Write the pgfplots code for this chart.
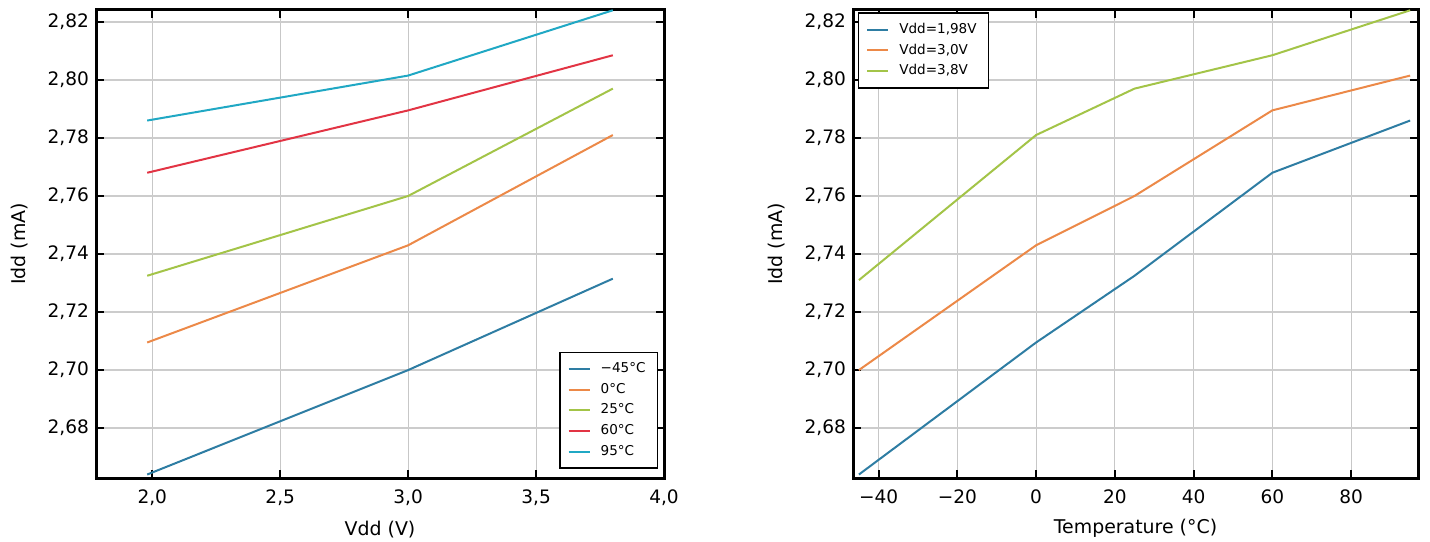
\documentclass[border=0pt]{standalone}
\usepackage{fontspec}
\setmainfont{DejaVu Sans}
\usepackage{pgfplots}
\pgfplotsset{compat=1.18}

\definecolor{cBlue}{RGB}{46,125,163}
\definecolor{cOrange}{RGB}{236,137,72}
\definecolor{cGreen}{RGB}{163,196,72}
\definecolor{cRed}{RGB}{226,52,68}
\definecolor{cCyan}{RGB}{32,168,196}

\pgfplotsset{
  idd/.style={
    scale only axis,
    height=234bp,
    axis line style={line width=1.5bp},
    tick style={black, line width=1bp},
    major tick length=4bp,
    tick align=inside,
    xtick pos=both, ytick pos=both,
    xmajorgrids, ymajorgrids,
    x grid style={line width=0.5bp, black!22},
    y grid style={line width=1.3bp, black!20},
    ymin=2.6628, ymax=2.8241,
    ytick={2.68,2.70,2.72,2.74,2.76,2.78,2.80,2.82},
    ticklabel style={font=\fontsize{9.3}{10}\selectfont},
    xticklabel style={yshift=-2.5bp},
    /pgf/number format/assume math mode=true,
    /pgf/number format/use comma,
    /pgf/number format/fixed,
    /pgf/number format/fixed zerofill,
    yticklabel style={/pgf/number format/precision=2},
    ylabel={Idd (mA)},
    label style={font=\fontsize{9.5}{11}\selectfont},
    xlabel style={yshift=-0.8bp},
    ylabel style={yshift=3bp},
    legend cell align=left,
    legend image code/.code={\draw[#1] (0bp,0bp) -- (10.5bp,0bp);},
    every axis plot/.append style={line width=1bp},
  },
  iddlegend/.style={
    font=\fontsize{6.8}{8}\selectfont, draw=black, line width=0.8bp,
    column sep=3bp, inner xsep=4bp, inner ysep=3bp,
    nodes={inner ysep=1.9bp},
  }
}

\begin{document}
\begin{tikzpicture}
  % Idd versus supply voltage, one line per temperature
  \begin{axis}[
    idd,
    width=284bp,
    xmin=1.78, xmax=4.0,
    xtick={2.0,2.5,3.0,3.5,4.0},
    xticklabel style={/pgf/number format/precision=1},
    xlabel={Vdd (V)},
    legend style={iddlegend, at={(0.99,0.02)}, anchor=south east},
  ]
    \addplot[cBlue] coordinates {(1.98,2.664) (3.0,2.700) (3.8,2.7315)};
    \addplot[cOrange] coordinates {(1.98,2.7095) (3.0,2.743) (3.8,2.781)};
    \addplot[cGreen] coordinates {(1.98,2.7325) (3.0,2.760) (3.8,2.797)};
    \addplot[cRed] coordinates {(1.98,2.768) (3.0,2.7895) (3.8,2.8085)};
    \addplot[cCyan] coordinates {(1.98,2.786) (3.0,2.8015) (3.8,2.824)};
    \legend{−45°C,0°C,25°C,60°C,95°C}
  \end{axis}

  % Idd versus temperature, one line per supply voltage
  \begin{axis}[
    idd,
    at={(378.5bp,0)},
    width=282.5bp,
    xmin=-46.5, xmax=97,
    xtick={-40,-20,0,20,40,60,80},
    xticklabels={−40,−20,0,20,40,60,80},
    xlabel={Temperature (°C)},
    legend style={iddlegend, at={(0.008,0.995)}, anchor=north west},
  ]
    \addplot[cBlue] coordinates {(-45,2.664) (0,2.7095) (25,2.7325) (60,2.768) (95,2.786)};
    \addplot[cOrange] coordinates {(-45,2.700) (0,2.743) (25,2.760) (60,2.7895) (95,2.8015)};
    \addplot[cGreen] coordinates {(-45,2.731) (0,2.781) (25,2.797) (60,2.8085) (95,2.824)};
    \legend{Vdd=1{,}98V,Vdd=3{,}0V,Vdd=3{,}8V}
  \end{axis}

  \pgfresetboundingbox
  \path[use as bounding box] (-48bp,-32bp) rectangle (667bp,239bp);
\end{tikzpicture}
\end{document}
